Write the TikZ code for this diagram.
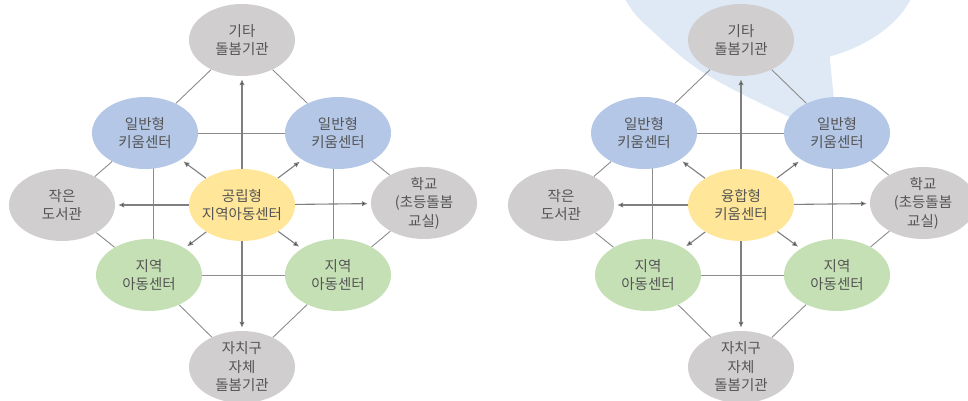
\documentclass[tikz,border=0pt]{standalone}
\usepackage{fontspec}
\setmainfont{Noto Sans CJK KR}
\usepackage{tikz}
\usetikzlibrary{shapes.geometric,arrows.meta,backgrounds}
\usepackage{xcolor}
\definecolor{kcgray}{HTML}{D0CECE}
\definecolor{kcblue}{HTML}{B4C7E7}
\definecolor{kcyellow}{HTML}{FFE699}
\definecolor{kcgreen}{HTML}{C5E0B4}
\definecolor{kcbubble}{HTML}{DEE9F5}
\definecolor{kctext}{HTML}{555555}
\definecolor{kcline}{HTML}{8C8C8C}
\definecolor{kcarrow}{HTML}{7F7F7F}

\begin{document}
\begin{tikzpicture}[x=1pt,y=-1pt]
        \tikzset{
        kc node/.style={ellipse,minimum width=106pt,minimum height=72pt,inner sep=-6pt,align=center,text=kctext,font=\fontsize{14.5}{18.5}\selectfont},
        kc gray/.style={kc node,fill=kcgray},
        kc blue/.style={kc node,fill=kcblue},
        kc yellow/.style={kc node,fill=kcyellow},
        kc green/.style={kc node,fill=kcgreen},
        kc edge/.style={draw=kcline,line width=0.9pt},
        kc arrow/.style={draw=kcarrow,line width=1.1pt,-{Latex[length=6pt,width=5.5pt]},shorten >=3pt}
        }
        \useasboundingbox (0,0) rectangle (968,401);
        \clip (0,0) rectangle (968,401);

        % left: 공립형
        \node[kc gray] (1) at (242,40) {기타\\돌봄기관};
        \node[kc blue] (2) at (145,133) {일반형\\키움센터};
        \node[kc blue] (3) at (338,133) {일반형\\키움센터};
        \node[kc gray] (4) at (62,205) {작은\\도서관};
        \node[kc yellow] (5) at (242,205) {공립형\\지역아동센터};
        \node[kc gray] (6) at (424,203) {학교\\(초등돌봄\\교실)};
        \node[kc green] (7) at (149,275) {지역\\아동센터};
        \node[kc green] (8) at (338,275) {지역\\아동센터};
        \node[kc gray] (9) at (242,367) {자치구\\자체\\돌봄기관};

        % right: 융합형
        \node[kc gray] (1a) at (741,40) {기타\\돌봄기관};
        \node[kc blue] (2a) at (644,133) {일반형\\키움센터};
        \node[kc blue] (3a) at (837,133) {일반형\\키움센터};
        \node[kc gray] (4a) at (561,205) {작은\\도서관};
        \node[kc yellow] (5a) at (741,205) {융합형\\키움센터};
        \node[kc gray] (6a) at (923,203) {학교\\(초등돌봄\\교실)};
        \node[kc green] (7a) at (648,275) {지역\\아동센터};
        \node[kc green] (8a) at (837,275) {지역\\아동센터};
        \node[kc gray] (9a) at (741,367) {자치구\\자체\\돌봄기관};

        \begin{scope}[on background layer]
        % speech bubble
        \fill[kcbubble] (768,-30) ellipse [x radius=150, y radius=95];
        \fill[kcbubble] (648,27) .. controls (700,75) .. (838,140) -- (829,50) -- cycle;

        \path[kc edge]
        (1) edge (2)  (1) edge (3)  (2) edge (4)  (3) edge (6)
        (4) edge (7)  (6) edge (8)  (7) edge (9)  (8) edge (9)
        (2) edge (3)  (7) edge (8)
        ([xshift=8pt]2.center) edge ([xshift=4pt]7.center)
        ([xshift=-5pt]3.center) edge ([xshift=-5pt]8.center)
        (1a) edge (2a)  (1a) edge (3a)  (2a) edge (4a)  (3a) edge (6a)
        (4a) edge (7a)  (6a) edge (8a)  (7a) edge (9a)  (8a) edge (9a)
        (2a) edge (3a)  (7a) edge (8a)
        ([xshift=8pt]2a.center) edge ([xshift=4pt]7a.center)
        ([xshift=-5pt]3a.center) edge ([xshift=-5pt]8a.center)
        ;

        \path[kc arrow]
        (5) edge (1)  (5) edge (2)  (5) edge (3)  (5) edge (4)
        (5) edge (6)  (5) edge (7)  (5) edge (8)  (5) edge (9)
        (5a) edge (1a)  (5a) edge (2a)  (5a) edge (3a)  (5a) edge (4a)
        (5a) edge (6a)  (5a) edge (7a)  (5a) edge (8a)  (5a) edge (9a)
        ;
        \end{scope}
\end{tikzpicture}
\end{document}
